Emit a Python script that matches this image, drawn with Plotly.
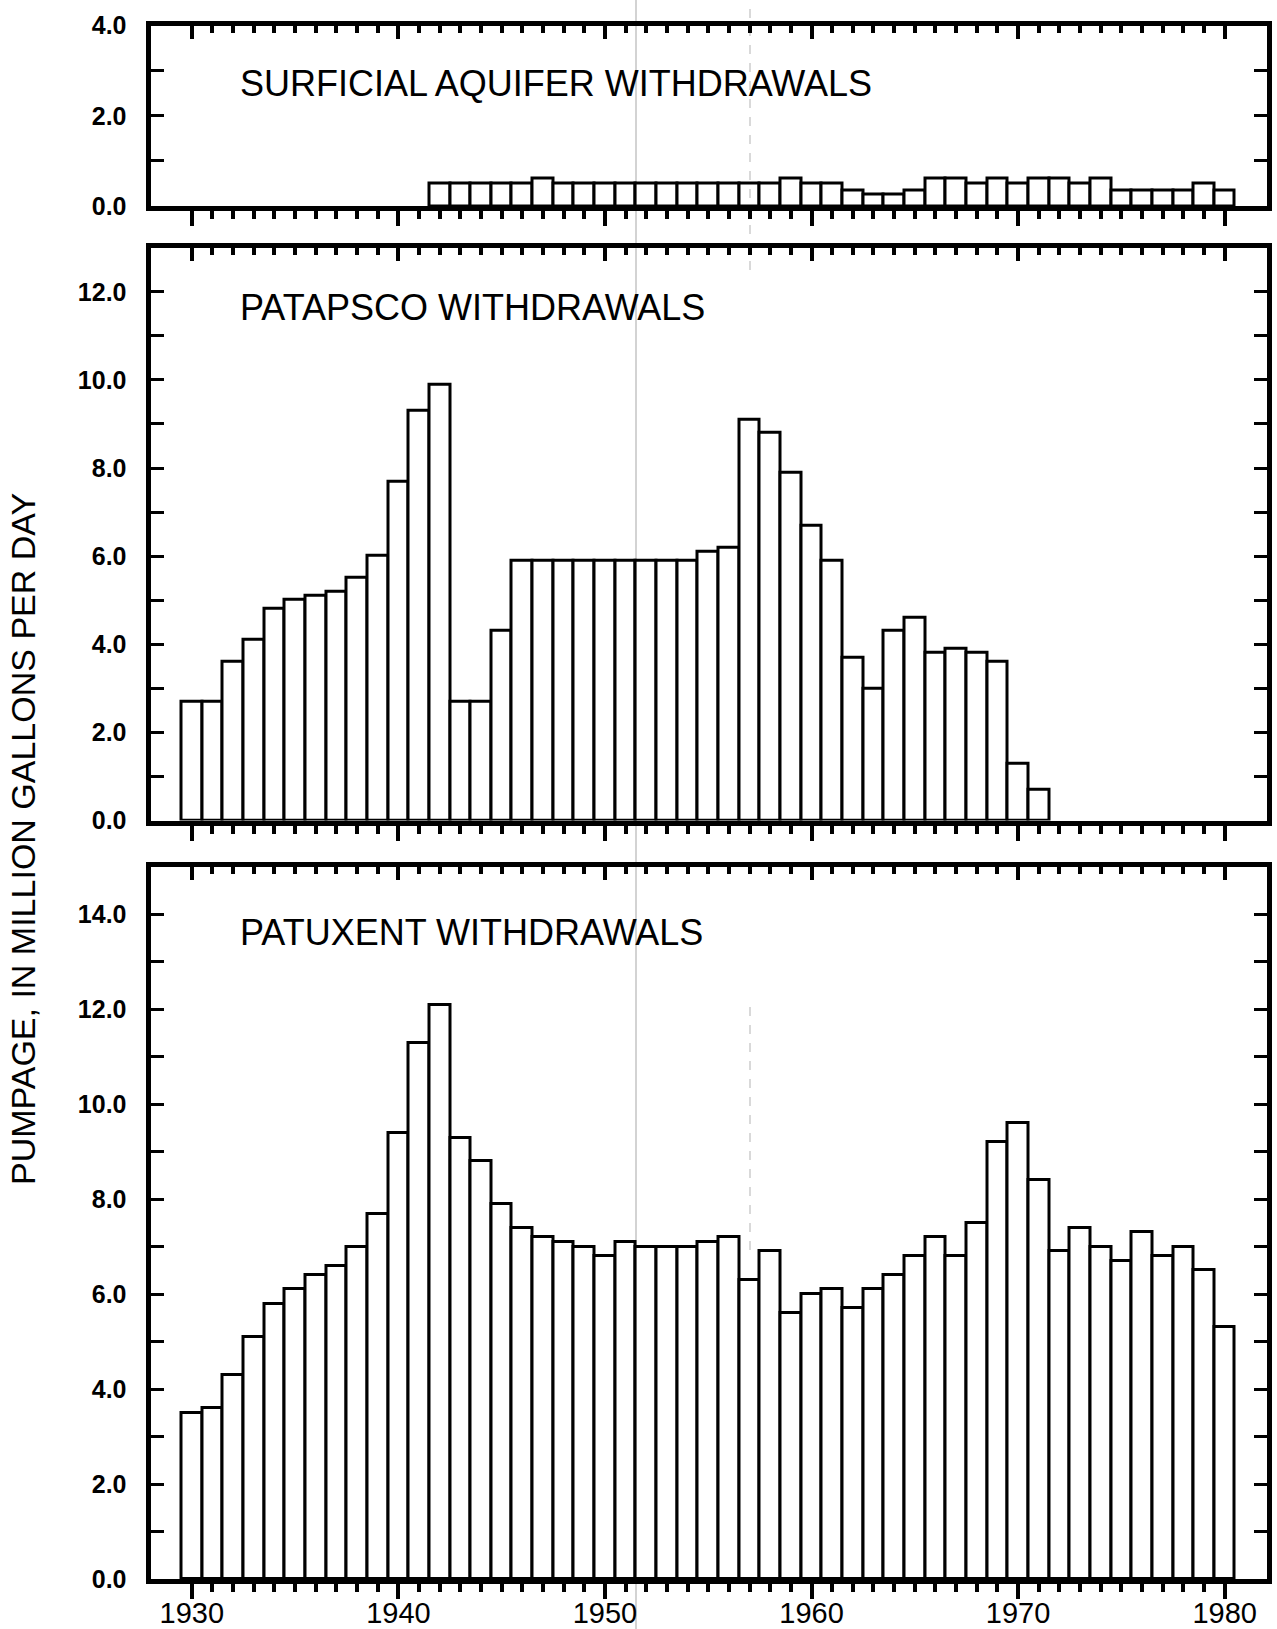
import plotly.graph_objects as go

# ---- data -------------------------------------------------------------
YEARS = list(range(1930, 1981))
DECADES = [1930, 1940, 1950, 1960, 1970, 1980]
DECADE_LABELS = ["1930", "1940", "1950", "1960", "1970", "1980"]

SURFICIAL_YEARS = list(range(1942, 1981))
SURFICIAL = [0.5, 0.5, 0.5, 0.5, 0.5, 0.6, 0.5, 0.5, 0.5, 0.5,
             0.5, 0.5, 0.5, 0.5, 0.5, 0.5, 0.5, 0.6, 0.5, 0.5,
             0.35, 0.25, 0.25, 0.35, 0.6, 0.6, 0.5, 0.6, 0.5, 0.6,
             0.6, 0.5, 0.6, 0.35, 0.35, 0.35, 0.35, 0.5, 0.35]

PATAPSCO_YEARS = list(range(1930, 1972))
PATAPSCO = [2.7, 2.7, 3.6, 4.1, 4.8, 5.0, 5.1, 5.2, 5.5, 6.0,
            7.7, 9.3, 9.9, 2.7, 2.7, 4.3, 5.9, 5.9, 5.9, 5.9,
            5.9, 5.9, 5.9, 5.9, 5.9, 6.1, 6.2, 9.1, 8.8, 7.9,
            6.7, 5.9, 3.7, 3.0, 4.3, 4.6, 3.8, 3.9, 3.8, 3.6,
            1.3, 0.7]

PATUXENT_YEARS = list(range(1930, 1981))
PATUXENT = [3.5, 3.6, 4.3, 5.1, 5.8, 6.1, 6.4, 6.6, 7.0, 7.7,
            9.4, 11.3, 12.1, 9.3, 8.8, 7.9, 7.4, 7.2, 7.1, 7.0,
            6.8, 7.1, 7.0, 7.0, 7.0, 7.1, 7.2, 6.3, 6.9, 5.6,
            6.0, 6.1, 5.7, 6.1, 6.4, 6.8, 7.2, 6.8, 7.5, 9.2,
            9.6, 8.4, 6.9, 7.4, 7.0, 6.7, 7.3, 6.8, 7.0, 6.5,
            5.3]

PANEL_TITLES = ["SURFICIAL AQUIFER WITHDRAWALS",
                "PATAPSCO WITHDRAWALS",
                "PATUXENT WITHDRAWALS"]
Y_TITLE = "PUMPAGE, IN MILLION GALLONS PER DAY"

TOP_TICKS = [0, 1, 2, 3, 4]
MID_TICKS = list(range(0, 14))
BOT_TICKS = list(range(0, 16))


def tick_labels(vals):
    return [f"{v:.1f}" if v % 2 == 0 else "" for v in vals]


# ---- page geometry (pixels) ------------------------------------------
W, H = 1277, 1629
LEFT, RIGHT = 150.5, 1267
PANELS = [(25.5, 206), (247.7, 820.5), (867, 1579)]   # plot-area top/bottom
X_RANGE = [1928, 1982.05]
Y_RANGES = [[0, 4], [0, 13], [0, 15]]


def ydom(top, bottom):
    return [1 - bottom / H, 1 - top / H]


xdom = [LEFT / W, RIGHT / W]

fig = go.Figure()

series = [(SURFICIAL_YEARS, SURFICIAL), (PATAPSCO_YEARS, PATAPSCO),
          (PATUXENT_YEARS, PATUXENT)]
for i, (xs, ys) in enumerate(series):
    sfx = "" if i == 0 else str(i + 1)
    fig.add_trace(go.Bar(
        x=xs, y=ys, width=1.0,
        marker=dict(color="white", line=dict(color="black", width=3)),
        xaxis="x" + sfx, yaxis="y" + sfx, showlegend=False,
        hoverinfo="x+y"))
    # empty trace that carries the top tick axis of each panel
    fig.add_trace(go.Scatter(x=[], y=[], xaxis=f"x{i + 4}", yaxis="y" + sfx,
                             showlegend=False, hoverinfo="skip"))

tick_font = dict(family="Liberation Sans", size=25, color="black", weight=700)
year_font = dict(family="Liberation Sans", size=29, color="black")

layout = dict(
    width=W, height=H, margin=dict(l=0, r=0, t=0, b=0, autoexpand=False),
    paper_bgcolor="white", plot_bgcolor="white",
    bargap=0, showlegend=False,
)

tick_sets = [TOP_TICKS, MID_TICKS, BOT_TICKS]
for i in range(3):
    sfx = "" if i == 0 else str(i + 1)
    ysfx = "y" + sfx
    last = i == 2
    layout["xaxis" + sfx] = dict(
        domain=xdom, anchor=ysfx, range=X_RANGE, automargin=False,
        showline=True, linewidth=5, linecolor="black", mirror=True,
        showgrid=False, zeroline=False,
        ticks="outside", tickmode="array", tickvals=DECADES,
        ticktext=DECADE_LABELS, ticklen=15, tickwidth=4, tickcolor="black",
        minor=dict(tickmode="array", tickvals=YEARS, ticks="outside",
                   ticklen=8, tickwidth=4, tickcolor="black"),
        showticklabels=last, tickfont=year_font, ticklabelstandoff=-11,
    )
    layout[f"xaxis{i + 4}"] = dict(
        overlaying="x" + sfx, anchor=ysfx, side="top", range=X_RANGE,
        automargin=False,
        showline=False, showgrid=False, zeroline=False,
        ticks="inside", tickmode="array", tickvals=DECADES,
        ticklen=13, tickwidth=4, tickcolor="black",
        minor=dict(tickmode="array", tickvals=YEARS, ticks="inside",
                   ticklen=7, tickwidth=4, tickcolor="black"),
        showticklabels=False,
    )
    layout["yaxis" + sfx] = dict(
        domain=ydom(*PANELS[i]), anchor="x" + sfx, range=Y_RANGES[i],
        automargin=False,
        showline=True, linewidth=5, linecolor="black", mirror="ticks",
        showgrid=False, zeroline=False,
        ticks="inside", tickmode="array", tickvals=tick_sets[i],
        ticktext=tick_labels(tick_sets[i]), ticklen=13, tickwidth=3,
        tickcolor="black", tickfont=tick_font, ticklabelstandoff=14,
    )

fig.update_layout(**layout)

# panel captions
caption_y = [83.6, 308, 932]
for text, cy in zip(PANEL_TITLES, caption_y):
    fig.add_annotation(
        text=text, xref="paper", yref="paper", x=238 / W, y=1 - cy / H,
        xanchor="left", yanchor="middle", showarrow=False,
        font=dict(family="Liberation Sans", size=36, color="black"))

# shared y-axis title
fig.add_annotation(
    text=Y_TITLE, xref="paper", yref="paper", x=23 / W, y=1 - 839 / H,
    xanchor="center", yanchor="middle", textangle=-90, showarrow=False,
    font=dict(family="Liberation Sans", size=34, color="black"))

# faint vertical scanner streaks across the sheet
fig.add_shape(type="line", xref="paper", yref="paper",
              x0=636 / W, x1=636 / W, y0=0, y1=1, layer="above",
              line=dict(color="rgba(0,0,0,0.35)", width=1))
for y0, y1 in [(0, 270), (1005, 1250)]:
    fig.add_shape(type="line", xref="paper", yref="paper",
                  x0=750 / W, x1=750 / W, y0=1 - y1 / H, y1=1 - y0 / H,
                  layer="above",
                  line=dict(color="rgba(0,0,0,0.3)", width=1, dash="dash"))

fig.write_html("out.html")
